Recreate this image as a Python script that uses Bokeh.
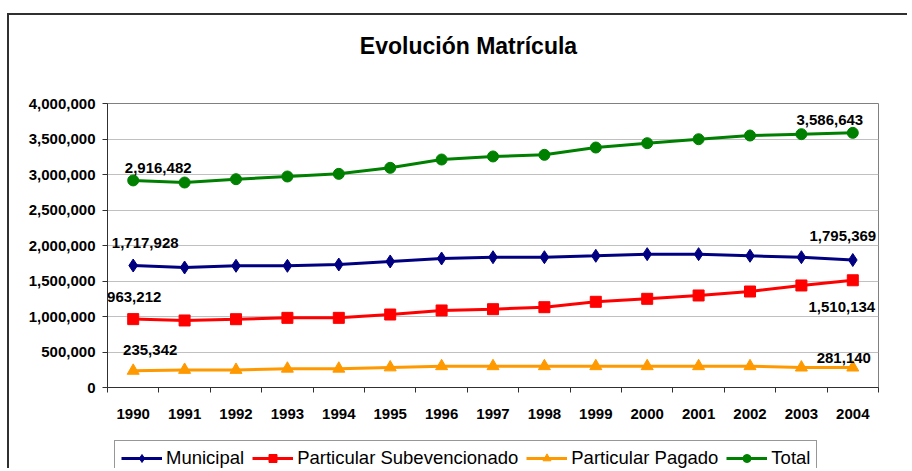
from bokeh.plotting import figure
from bokeh.layouts import column
from bokeh.models import (FixedTicker, NumeralTickFormatter, Legend, LegendItem,
                          Range1d, ColumnDataSource, BasicTickFormatter)
from bokeh.core.properties import value
from bokeh.embed import file_html
from bokeh.resources import INLINE

years = [1990, 1991, 1992, 1993, 1994, 1995, 1996, 1997, 1998, 1999, 2000, 2001, 2002, 2003, 2004]
municipal = [1717928, 1690000, 1714000, 1714000, 1732000, 1775000, 1817000, 1835000, 1835000,
             1855000, 1878000, 1878000, 1855000, 1835000, 1795369]
subvencionado = [963212, 944000, 962000, 981000, 981000, 1028000, 1085000, 1103000, 1131000,
                 1207000, 1249000, 1296000, 1352000, 1437000, 1510134]
pagado = [235342, 248000, 248000, 265000, 265000, 283000, 300000, 300000, 300000,
          300000, 300000, 300000, 300000, 281000, 281140]
total = [2916482, 2887000, 2934000, 2972000, 3009000, 3094000, 3211000, 3254000, 3277000,
         3380000, 3441000, 3497000, 3549000, 3568000, 3586643]
series_names = ["Municipal", "Particular Subevencionado", "Particular Pagado", "Total"]
y_ticks = [0, 500000, 1000000, 1500000, 2000000, 2500000, 3000000, 3500000, 4000000]
title_text = "Evolución Matrícula"

FONT = "Liberation Sans"
W = 900
FRAME_W = 771          # plot-area width in px (strips share the chart's frame)
BORDER = "2px solid #303030"


def strip(height):
    f = figure(width=W, height=height, output_backend="svg", toolbar_location=None,
               x_range=Range1d(0, FRAME_W), y_range=Range1d(0, height),
               x_axis_type=None, y_axis_type=None,
               min_border_left=0, min_border_right=0, min_border_top=0, min_border_bottom=0)
    f.grid.visible = False
    f.outline_line_color = None
    f.background_fill_color = "white"
    f.border_fill_color = "white"
    return f


# ---- title strip ----
pt = strip(60)
pt.styles = {"border-left": BORDER, "border-top": BORDER}
pt.text(x=[361], y=[30], text=[title_text], text_align="center", text_baseline="middle",
        text_font=value(FONT), text_font_size="23px", text_font_style="bold", text_color="black")

# ---- main chart ----
p = figure(width=W, height=357, output_backend="svg", toolbar_location=None,
           x_range=Range1d(1989.5, 2004.5), y_range=Range1d(0, 4000000),
           min_border_left=98, min_border_right=31, min_border_top=30, min_border_bottom=43)
p.styles = {"border-left": BORDER}
p.background_fill_color = "white"
p.border_fill_color = "white"
p.outline_line_color = "#808080"
p.outline_line_width = 1

xa = p.xaxis[0]
xa.ticker = FixedTicker(ticks=years, minor_ticks=[y - 0.5 for y in years] + [years[-1] + 0.5])
xa.formatter = BasicTickFormatter(use_scientific=False)
xa.major_tick_in = 0
xa.major_tick_out = 0
xa.minor_tick_in = 0
xa.minor_tick_out = 5
xa.minor_tick_line_color = "#303030"
xa.major_label_standoff = 16
ya = p.yaxis[0]
ya.ticker = FixedTicker(ticks=y_ticks)
ya.formatter = NumeralTickFormatter(format="0,0")
ya.major_tick_in = 0
ya.major_tick_out = 5
ya.minor_tick_line_color = None
ya.major_label_standoff = 7
for ax in (xa, ya):
    ax.axis_line_color = "#303030"
    ax.major_tick_line_color = "#303030"
    ax.major_label_text_font = FONT
    ax.major_label_text_font_size = "15px"
    ax.major_label_text_font_style = "bold"
    ax.major_label_text_color = "black"

p.xgrid.grid_line_color = None
p.ygrid.ticker = FixedTicker(ticks=y_ticks)
p.ygrid.grid_line_color = "#c0c0c0"

colors = ["#000080", "#FF0000", "#FF9900", "#008000"]
markers = ["diamond", "square", "triangle", "circle"]
sizes = [13, 11, 12, 11]
datas = [municipal, subvencionado, pagado, total]
offsets = [((12, -23), (-10, -24)), ((1, -22), (-11, 27)), ((17, -21), (-9, -10)), ((25, -12), (-23, -13))]

sources = []
for name, col, mk, sz, d, offs in zip(series_names, colors, markers, sizes, datas, offsets):
    src = ColumnDataSource(dict(x=years, y=d))
    sources.append(src)
    p.line("x", "y", source=src, line_color=col, line_width=3)
    p.scatter("x", "y", source=src, marker=mk, size=sz, fill_color=col, line_color=col)
    for idx, (dx, dy) in zip((0, len(years) - 1), offs):
        p.text(x=[years[idx]], y=[d[idx]], text=[f"{d[idx]:,}"], x_offset=dx, y_offset=dy,
               text_align="center", text_baseline="middle", text_font=value(FONT),
               text_font_size="15px", text_font_style="bold", text_color="black")

# ---- legend strip (same series, drawn outside its view; only the legend shows) ----
pl = strip(38)
pl.styles = {"border-left": BORDER}
items = []
for name, col, mk, src in zip(series_names, colors, markers, sources):
    ln = pl.line("x", "y", source=src, line_color=col, line_width=3)
    sc = pl.scatter("x", "y", source=src, marker=mk, size=8, fill_color=col, line_color=col)
    items.append(LegendItem(label=name, renderers=[ln, sc]))

legend = Legend(items=items, orientation="horizontal", location=(7, -8))
legend.label_text_font = FONT
legend.label_text_font_size = "18.5px"
legend.label_text_color = "black"
legend.glyph_width = 41
legend.glyph_height = 20
legend.label_standoff = 4
legend.spacing = 8
legend.padding = 6
legend.margin = 0
legend.border_line_color = "#303030"
legend.border_line_width = 1
legend.background_fill_alpha = 1
pl.add_layout(legend)

layout = column(pt, p, pl)
layout.margin = (13, 0, 0, 7)

open("out.html", "w").write(file_html(layout, INLINE))
